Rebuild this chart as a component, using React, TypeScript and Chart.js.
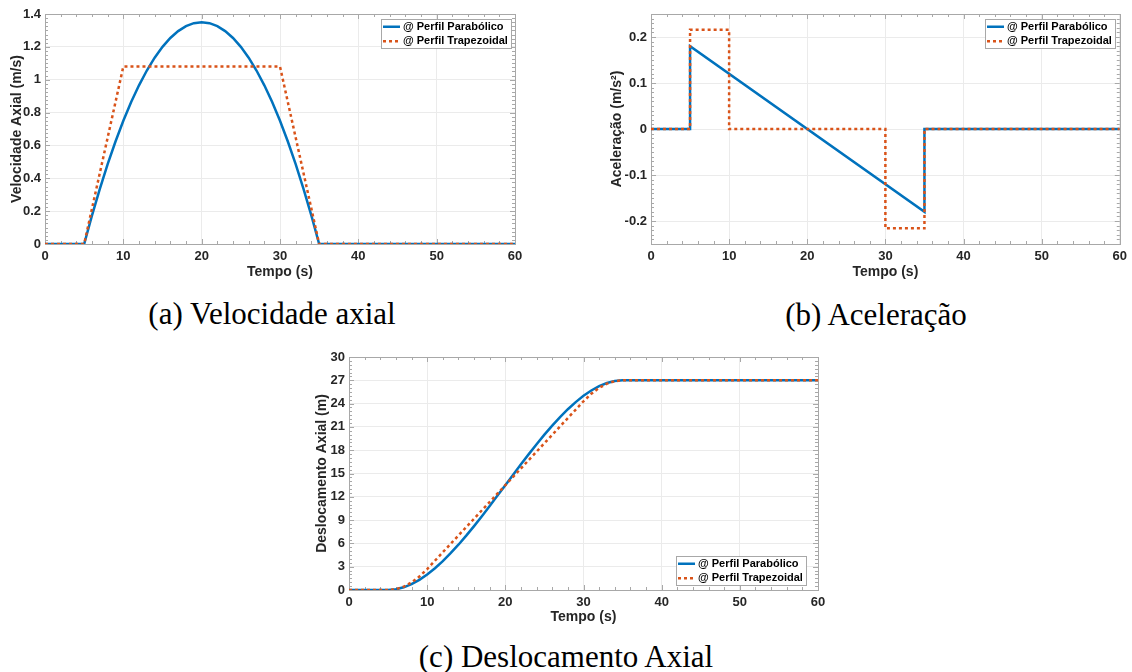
import React, { useEffect, useRef } from "react";
import { Chart, registerables } from "chart.js";

Chart.register(...registerables);

// ---------------- DATA ----------------
const seriesLabels = ["@ Perfil Parabólico", "@ Perfil Trapezoidal"];

// (a) Velocidade axial
const tempoParab = [0, 5, 6, 7, 8, 9, 10, 11, 12, 13, 14, 15, 16, 17, 18, 19, 20, 21, 22, 23, 24, 25, 26, 27, 28, 29, 30, 31, 32, 33, 34, 35, 60];
const velParab = [0, 0, 0.174, 0.336, 0.486, 0.624, 0.75, 0.864, 0.966, 1.056, 1.134, 1.2, 1.254, 1.296, 1.326, 1.344, 1.35, 1.344, 1.326, 1.296, 1.254, 1.2, 1.134, 1.056, 0.966, 0.864, 0.75, 0.624, 0.486, 0.336, 0.174, 0, 0];
const tempoVelTrap = [0, 5, 10, 30, 35, 60];
const velTrap = [0, 0, 1.08, 1.08, 0, 0];

// (b) Aceleração
const tempoAcelParab = [0, 5, 5, 35, 35, 60];
const acelParab = [0, 0, 0.18, -0.18, 0, 0];
const tempoAcelTrap = [0, 5, 5, 10, 10, 30, 30, 35, 35, 60];
const acelTrap = [0, 0, 0.216, 0.216, 0, 0, -0.216, -0.216, 0, 0];

// (c) Deslocamento axial
const deslParab = [0, 0, 0.089, 0.344, 0.756, 1.312, 2.0, 2.808, 3.724, 4.736, 5.832, 7.0, 8.228, 9.504, 10.816, 12.152, 13.5, 14.848, 16.184, 17.496, 18.772, 20.0, 21.168, 22.264, 23.276, 24.192, 25.0, 25.688, 26.244, 26.656, 26.911, 27, 27];
const tempoDeslTrap = [0, 5, 6, 7, 8, 9, 10, 30, 31, 32, 33, 34, 35, 60];
const deslTrap = [0, 0, 0.108, 0.432, 0.972, 1.728, 2.7, 24.3, 25.272, 26.028, 26.568, 26.892, 27, 27];

// Tick labels
const xTicksTempo = [0, 10, 20, 30, 40, 50, 60];
const yTicksVel = [0, 0.2, 0.4, 0.6, 0.8, 1, 1.2, 1.4];
const yTicksAcel = [-0.2, -0.1, 0, 0.1, 0.2];
const yTicksDesl = [0, 3, 6, 9, 12, 15, 18, 21, 24, 27, 30];

// ---------------- STYLE ----------------
const BLUE = "#0072BD";
const ORANGE = "#D95319";
const TEXT = "#262626";
const GRID = "#ebebeb";
const BOX = "#a8a8a8";
const SANS = "'Liberation Sans', Arial, sans-serif";

const zip = (xs: number[], ys: number[]) => xs.map((x, i) => ({ x, y: ys[i] }));

const axesPlugin = {
  id: "matlabAxes",
  beforeDatasetsDraw(chart: any, _a: any, opts: any) {
    const { ctx, chartArea } = chart;
    const { left, right, top, bottom } = chartArea;
    const xs = chart.scales.x;
    const ys = chart.scales.y;
    ctx.save();
    ctx.strokeStyle = BOX;
    ctx.lineWidth = 1;
    const seg = (x1: number, y1: number, x2: number, y2: number) => {
      ctx.beginPath();
      ctx.moveTo(x1, y1);
      ctx.lineTo(x2, y2);
      ctx.stroke();
    };
    const nx = Math.round((xs.max - xs.min) / opts.xMinor);
    for (let i = 0; i <= nx; i++) {
      const v = xs.min + i * opts.xMinor;
      const px = Math.round(xs.getPixelForValue(v)) + 0.5;
      const major = Math.abs(v / opts.xMajor - Math.round(v / opts.xMajor)) < 1e-6;
      const len = major ? 5 : 3;
      seg(px, bottom, px, bottom - len);
      seg(px, top, px, top + len);
    }
    const ny = Math.round((ys.max - ys.min) / opts.yMinor);
    for (let i = 0; i <= ny; i++) {
      const v = ys.min + i * opts.yMinor;
      const py = Math.round(ys.getPixelForValue(v)) + 0.5;
      const major = Math.abs(v / opts.yMajor - Math.round(v / opts.yMajor)) < 1e-6;
      const len = major ? 5 : 3;
      seg(left, py, left + len, py);
      seg(right, py, right - len, py);
    }
    ctx.strokeRect(Math.round(left) + 0.5, Math.round(top) + 0.5, Math.round(right - left), Math.round(bottom - top));
    ctx.restore();
  },
};

const legendPlugin = {
  id: "matlabLegend",
  afterDraw(chart: any, _a: any, opts: any) {
    const { ctx, chartArea } = chart;
    ctx.save();
    ctx.font = `bold 11px ${SANS}`;
    const textW = Math.max(...seriesLabels.map((s) => ctx.measureText(s).width));
    const lineLen = 17;
    const padL = 2;
    const gap = 3;
    const padR = 3;
    const rowH = 14.5;
    const w = Math.round(padL + lineLen + gap + textW + padR);
    const h = Math.round(rowH * seriesLabels.length);
    const x = Math.round(chartArea.right - opts.dx - w);
    const y = opts.corner === "tr" ? Math.round(chartArea.top + opts.dy) : Math.round(chartArea.bottom - opts.dy - h);
    ctx.fillStyle = "#ffffff";
    ctx.fillRect(x, y, w, h);
    ctx.strokeStyle = BOX;
    ctx.lineWidth = 1;
    ctx.strokeRect(x + 0.5, y + 0.5, w, h);
    const colors = [BLUE, ORANGE];
    seriesLabels.forEach((lab, i) => {
      const cy = y + rowH / 2 + i * rowH + 0.5;
      ctx.beginPath();
      ctx.strokeStyle = colors[i];
      ctx.lineWidth = 2.5;
      ctx.setLineDash(i === 0 ? [] : [3, 3]);
      ctx.moveTo(x + padL, cy);
      ctx.lineTo(x + padL + lineLen, cy);
      ctx.stroke();
      ctx.setLineDash([]);
      ctx.fillStyle = "#000";
      ctx.textBaseline = "middle";
      ctx.textAlign = "left";
      ctx.fillText(lab, x + padL + lineLen + gap, cy);
    });
    ctx.restore();
  },
};

type PanelProps = {
  left: number;
  top: number;
  width: number;
  height: number;
  padding: { left: number; right: number; top: number; bottom: number };
  yAxisWidth: number;
  xAxisHeight: number;
  yMin: number;
  yMax: number;
  yTicks: number[];
  yMajor: number;
  yMinor: number;
  yTitle: string;
  yTitlePad: number;
  xTitlePad: number;
  legendCorner: "tr" | "br";
  legendDx: number;
  legendDy: number;
  s1: { x: number; y: number }[];
  s2: { x: number; y: number }[];
};

function Panel(p: PanelProps) {
  const ref = useRef<HTMLCanvasElement | null>(null);
  useEffect(() => {
    if (!ref.current) return;
    const fmt = (v: any) => String(Number(Number(v).toFixed(4)));
    const chart = new Chart(ref.current, {
      type: "line",
      data: {
        datasets: [
          {
            label: seriesLabels[0],
            data: p.s1,
            borderColor: BLUE,
            borderWidth: 2.5,
            pointRadius: 0,
            tension: 0,
            fill: false,
            order: 1,
          },
          {
            label: seriesLabels[1],
            data: p.s2,
            borderColor: ORANGE,
            borderWidth: 2.5,
            borderDash: [3, 3],
            pointRadius: 0,
            tension: 0,
            fill: false,
            order: 0,
          },
        ],
      },
      options: {
        responsive: false,
        animation: false,
        devicePixelRatio: 1,
        layout: { padding: p.padding },
        plugins: {
          legend: { display: false },
          tooltip: { enabled: false },
          matlabAxes: { xMajor: 10, xMinor: 2, yMajor: p.yMajor, yMinor: p.yMinor },
          matlabLegend: { corner: p.legendCorner, dx: p.legendDx, dy: p.legendDy },
        } as any,
        scales: {
          x: {
            type: "linear",
            min: 0,
            max: 60,
            afterBuildTicks: (s: any) => {
              s.ticks = xTicksTempo.map((v) => ({ value: v }));
            },
            afterFit: (s: any) => {
              s.height = p.xAxisHeight;
            },
            grid: { color: GRID, drawTicks: false },
            border: { display: false },
            ticks: { font: { family: SANS, size: 13, weight: "bold" }, color: TEXT, padding: 5, maxRotation: 0, autoSkip: false, callback: fmt },
            title: { display: true, text: "Tempo (s)", font: { family: SANS, size: 14, weight: "bold" }, color: TEXT, padding: { top: 0, bottom: p.xTitlePad } },
          },
          y: {
            type: "linear",
            min: p.yMin,
            max: p.yMax,
            afterBuildTicks: (s: any) => {
              s.ticks = p.yTicks.map((v) => ({ value: v }));
            },
            afterFit: (s: any) => {
              s.width = p.yAxisWidth;
            },
            grid: { color: GRID, drawTicks: false },
            border: { display: false },
            ticks: { font: { family: SANS, size: 13, weight: "bold" }, color: TEXT, padding: 4, autoSkip: false, callback: fmt },
            title: { display: true, text: p.yTitle, font: { family: SANS, size: 14, weight: "bold" }, color: TEXT, padding: { top: p.yTitlePad, bottom: 0 } },
          },
        },
      } as any,
      plugins: [axesPlugin, legendPlugin],
    });
    return () => chart.destroy();
  }, []);
  return (
    <canvas
      ref={ref}
      width={p.width}
      height={p.height}
      style={{ position: "absolute", left: p.left, top: p.top, width: p.width, height: p.height }}
    />
  );
}

const captionStyle = (cx: number, cy: number): React.CSSProperties => ({
  position: "absolute",
  left: cx - 250,
  top: cy - 18,
  width: 500,
  height: 36,
  lineHeight: "36px",
  textAlign: "center",
  fontFamily: "'Liberation Serif', 'Times New Roman', serif",
  fontSize: 31,
  color: "#000",
  whiteSpace: "nowrap",
});

export default function App() {
  return (
    <div style={{ position: "fixed", left: 0, top: 0, width: 1132, height: 672, background: "#fff", overflow: "hidden" }}>
      <Panel
        left={0}
        top={0}
        width={530}
        height={290}
        padding={{ left: 0, right: 15, top: 14, bottom: 0 }}
        yAxisWidth={45}
        xAxisHeight={46}
        yMin={0}
        yMax={1.4}
        yTicks={yTicksVel}
        yMajor={0.2}
        yMinor={0.025}
        yTitle="Velocidade Axial (m/s)"
        yTitlePad={9}
        xTitlePad={9}
        legendCorner="tr"
        legendDx={4}
        legendDy={5}
        s1={zip(tempoParab, velParab)}
        s2={zip(tempoVelTrap, velTrap)}
      />
      <Panel
        left={590}
        top={0}
        width={542}
        height={290}
        padding={{ left: 0, right: 12, top: 14, bottom: 0 }}
        yAxisWidth={61}
        xAxisHeight={46}
        yMin={-0.25}
        yMax={0.25}
        yTicks={yTicksAcel}
        yMajor={0.1}
        yMinor={0.01}
        yTitle="Aceleração (m/s²)"
        yTitlePad={19}
        xTitlePad={9}
        legendCorner="tr"
        legendDx={5}
        legendDy={5}
        s1={zip(tempoAcelParab, acelParab)}
        s2={zip(tempoAcelTrap, acelTrap)}
      />
      <Panel
        left={290}
        top={340}
        width={542}
        height={290}
        padding={{ left: 0, right: 14, top: 17, bottom: 0 }}
        yAxisWidth={59}
        xAxisHeight={40}
        yMin={0}
        yMax={30}
        yTicks={yTicksDesl}
        yMajor={3}
        yMinor={0.5}
        yTitle="Deslocamento Axial (m)"
        yTitlePad={24}
        xTitlePad={4}
        legendCorner="br"
        legendDx={12}
        legendDy={5}
        s1={zip(tempoParab, deslParab)}
        s2={zip(tempoDeslTrap, deslTrap)}
      />
      <div style={captionStyle(272, 314)}>(a) Velocidade axial</div>
      <div style={captionStyle(876, 315)}>(b) Aceleração</div>
      <div style={captionStyle(566, 657)}>(c) Deslocamento Axial</div>
    </div>
  );
}
